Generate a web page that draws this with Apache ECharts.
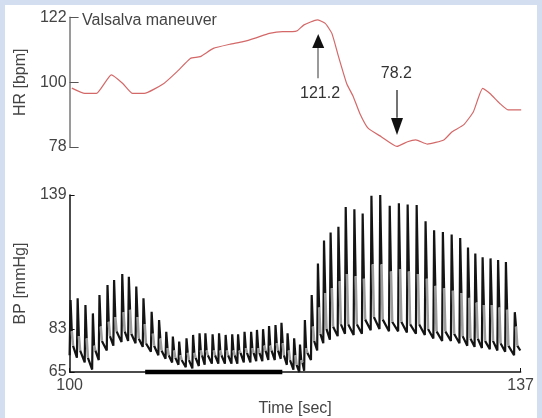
<!DOCTYPE html>
<html>
<head>
<meta charset="utf-8">
<script src="https://cdn.jsdelivr.net/npm/echarts@6/dist/echarts.min.js"></script>
<style>
  html, body { margin: 0; padding: 0; width: 542px; height: 418px; background: #d4def1; overflow: hidden; }
  #chart { position: absolute; left: 5px; top: 5px; width: 532px; height: 413px; background: #ffffff; }
</style>
</head>
<body>
<div id="chart"></div>
<script>
// ---------------- data ----------------
// Heart rate trace (time in s, HR in bpm)
const hrTime = [100.18, 101.24, 102.18, 103.39, 104.32, 105.12, 106.06, 107.66, 108.73, 109.81,
  110.61, 111.68, 113.02, 114.09, 115.15, 116.23, 117.30, 118.10, 118.50, 119.04,
  120.12, 120.77, 121.31, 121.85, 122.51, 123.05, 123.58, 124.25, 125.32, 126.60,
  127.46, 128.13, 129.07, 130.40, 131.08, 132.01, 132.81, 133.56, 134.15, 134.95,
  135.62, 136.69];
const hrBpm = [98.0, 96.2, 96.2, 102.5, 99.6, 96.2, 96.2, 99.6, 103.6, 108.1,
  108.7, 111.5, 112.9, 113.8, 115.1, 116.6, 117.2, 117.2, 117.5, 119.5,
  121.2, 120.0, 116.6, 108.7, 99.6, 95.1, 89.4, 84.4, 81.5, 78.2,
  79.8, 80.4, 79.0, 80.4, 83.2, 85.5, 90.0, 97.9, 96.2, 92.8,
  90.6, 90.6];

// Blood pressure beats: time of systolic peak, systolic, diastolic (before beat),
// dicrotic level, and level where the dicrotic fall ends
const bpPeakT = [100.08, 100.66, 101.30, 101.91, 102.45, 103.11, 103.65, 104.32, 104.86, 105.47,
  106.06, 106.73, 107.34, 107.93, 108.47, 108.99, 109.59, 110.13, 110.66, 111.14,
  111.73, 112.26, 112.80, 113.34, 113.82, 114.35, 114.89, 115.37, 115.87, 116.36,
  116.89, 117.38, 117.88, 118.42, 118.90, 119.30, 119.86, 120.37, 120.87, 121.41,
  122.05, 122.65, 123.36, 124.04, 124.76, 125.48, 126.26, 127.01, 127.73, 128.47,
  129.20, 129.90, 130.62, 131.34, 132.04, 132.68, 133.28, 133.88, 134.53, 135.15,
  135.79, 136.52];
const bpSys = [95.1, 95.8, 93.0, 89.5, 97.2, 101.4, 103.5, 106.0, 104.8, 100.7,
  95.8, 90.2, 86.7, 81.8, 79.8, 77.7, 79.1, 80.5, 81.2, 81.2,
  80.8, 81.2, 80.5, 80.8, 80.8, 81.8, 81.8, 82.6, 82.9, 84.2,
  84.6, 85.6, 81.2, 79.1, 76.5, 86.7, 97.2, 110.4, 120.0, 123.3,
  125.7, 134.0, 133.0, 131.3, 138.7, 139.0, 134.5, 135.5, 135.0, 134.8,
  128.0, 124.3, 123.5, 122.5, 121.0, 117.0, 114.5, 113.0, 112.5, 111.8,
  111.0, 90.0];
const bpDia = [72, 71, 69, 66, 70, 74, 76, 77.5, 78, 77,
  75.5, 73.5, 72, 70.5, 69, 68, 67, 66.5, 67.5, 68,
  68.5, 68.5, 68.5, 68.5, 68.5, 69, 69, 69.5, 69.5, 70,
  70, 70.5, 68, 66, 65, 65.5, 70, 74, 77, 78.5,
  80, 81, 80.5, 81, 82.5, 83, 82, 82, 81.5, 81,
  80.5, 79, 78, 78, 77, 76, 75.5, 75, 74.5, 74,
  73.5, 72];
const bpDic = [82, 80, 79, 76, 84, 86, 88, 90, 91, 88,
  85, 81, 79, 75, 74, 72, 73, 73, 74, 74,
  74, 74, 74, 74, 74, 75, 75, 75, 76, 76,
  77, 77, 74, 72, 70, 75, 84, 92, 98, 100,
  103, 106, 105, 104, 110, 110, 107, 108, 107, 106,
  104, 101, 100, 99, 98, 96, 94, 93, 93, 92,
  91, 84];
const bpFoot = [76, 74, 71, 74, 78, 80, 82, 82, 81, 79,
  77, 76, 74, 72, 71, 70, 70, 71, 72, 72,
  72, 72, 72, 72, 73, 73, 73, 73, 74, 74,
  74, 72, 70, 68, 69, 73, 78, 81, 83, 84,
  85, 85, 85, 87, 88, 87, 86, 86, 85, 85,
  83, 82, 82, 81, 80, 79, 79, 78, 78, 77,
  76, 76];
const bpEnd = [136.97, 74];

// Valsalva strain marker (s)
const valsalvaT = [106.2, 117.45];

// Tick labels
const timeTicks = [100, 137];
const hrTicks = [78, 100, 122];
const bpTicks = [65, 83, 139];

// Annotations
const peakHR = { t: 120.2, label: '121.2', stem: [101.4, 111.6], head: 114.0, text: 96.3 };
const troughHR = { t: 126.6, label: '78.2', stem: [97.4, 87.9], head: 85.0, text: 102.8 };

// ---------------- build waveform ----------------
// black: upstroke spike and diastolic run-off; gray: dicrotic fall
const bpBlack = [[100, bpDia[0]]];
const bpGray = [];
for (let i = 0; i < bpPeakT.length; i++) {
  const p = bpPeakT[i];
  bpBlack.push([p - 0.06, bpDia[i]]);
  bpBlack.push([p, bpSys[i]]);
  bpBlack.push([p + 0.1, bpDic[i]]);
  bpBlack.push([null, null]);
  bpGray.push([p + 0.1, bpDic[i]]);
  bpGray.push([p + 0.2, bpFoot[i]]);
  bpGray.push([null, null]);
  bpBlack.push([p + 0.2, bpFoot[i]]);
  if (i + 1 >= bpPeakT.length) bpBlack.push(bpEnd);
}

const hrData = hrTime.map((t, i) => [t, hrBpm[i]]);

const txt = '#444';
const font = 'Liberation Sans, Arial, sans-serif';

const chart = echarts.init(document.getElementById('chart'), null, { renderer: 'canvas' });
chart.setOption({
  animation: false,
  backgroundColor: '#ffffff',
  textStyle: { fontFamily: font },
  title: {
    text: 'Valsalva maneuver', left: 77, top: 8, padding: 0,
    textStyle: { fontSize: 16, fontWeight: 'normal', color: txt, fontFamily: font, lineHeight: 16 }
  },
  grid: [
    { left: 59, right: 12, top: 12.5, bottom: 271 },
    { left: 59, right: 12, top: 190, bottom: 46 }
  ],
  xAxis: [
    { gridIndex: 0, type: 'value', min: 100, max: 137, show: false },
    {
      gridIndex: 1, type: 'value', min: 100, max: 137,
      axisLine: { show: true, lineStyle: { color: '#111', width: 1.5 } },
      axisTick: { show: true, inside: true, length: 4, customValues: timeTicks, lineStyle: { color: '#111' } },
      axisLabel: { customValues: timeTicks, fontSize: 16, color: txt, margin: 6, fontFamily: font },
      splitLine: { show: false },
      name: 'Time [sec]', nameLocation: 'middle', nameGap: 29,
      nameTextStyle: { fontSize: 16, color: txt, fontFamily: font }
    }
  ],
  yAxis: [
    {
      gridIndex: 0, type: 'value', min: 78, max: 122,
      axisLine: { show: true, lineStyle: { color: '#9a9a9a', width: 2 } },
      axisTick: { show: true, inside: true, length: 9, customValues: hrTicks, lineStyle: { color: '#555' } },
      axisLabel: { customValues: hrTicks, fontSize: 16, color: txt, margin: 3, fontFamily: font },
      splitLine: { show: false },
      name: 'HR [bpm]', nameLocation: 'middle', nameGap: 40,
      nameTextStyle: { fontSize: 16, color: txt, fontFamily: font }
    },
    {
      gridIndex: 1, type: 'value', min: 65, max: 139,
      axisLine: { show: true, lineStyle: { color: '#111', width: 1.5 } },
      axisTick: { show: true, inside: true, length: 5, customValues: bpTicks, lineStyle: { color: '#111' } },
      axisLabel: { customValues: bpTicks, fontSize: 16, color: txt, margin: 3, fontFamily: font },
      splitLine: { show: false },
      name: 'BP [mmHg]', nameLocation: 'middle', nameGap: 40,
      nameTextStyle: { fontSize: 16, color: txt, fontFamily: font }
    }
  ],
  series: [
    {
      type: 'line', xAxisIndex: 0, yAxisIndex: 0, data: hrData,
      showSymbol: false, smooth: 0.15,
      lineStyle: { color: '#d46868', width: 1.2 },
      markLine: {
        silent: true, symbol: ['none', 'none'], animation: false,
        label: { show: false },
        data: [
          [{ coord: [peakHR.t, peakHR.stem[0]], lineStyle: { color: '#9a9a9a', width: 2, type: 'solid' } },
           { coord: [peakHR.t, peakHR.stem[1]] }],
          [{ coord: [troughHR.t, troughHR.stem[0]], lineStyle: { color: '#444', width: 1.5, type: 'solid' } },
           { coord: [troughHR.t, troughHR.stem[1]] }]
        ]
      },
      markPoint: {
        silent: true, animation: false,
        data: [
          { coord: [peakHR.t, peakHR.head], symbol: 'triangle', symbolSize: [12, 14], itemStyle: { color: '#111' }, label: { show: false } },
          { coord: [troughHR.t, troughHR.head], symbol: 'triangle', symbolRotate: 180, symbolSize: [12, 17], itemStyle: { color: '#111' }, label: { show: false } },
          { coord: [peakHR.t + 0.15, peakHR.text], symbolSize: 0, label: { show: true, position: 'inside', formatter: peakHR.label, fontSize: 16, color: '#333', fontFamily: font } },
          { coord: [troughHR.t - 0.05, troughHR.text], symbolSize: 0, label: { show: true, position: 'inside', formatter: troughHR.label, fontSize: 16, color: '#333', fontFamily: font } }
        ]
      }
    },
    {
      type: 'line', xAxisIndex: 1, yAxisIndex: 1, data: bpBlack, connectNulls: false,
      showSymbol: false, lineStyle: { color: '#141414', width: 2.2 }, z: 3
    },
    {
      type: 'line', xAxisIndex: 1, yAxisIndex: 1, data: bpGray, connectNulls: false,
      showSymbol: false, lineStyle: { color: '#9c9c9c', width: 2.6 }, z: 4
    },
    {
      type: 'line', xAxisIndex: 1, yAxisIndex: 1,
      data: [[valsalvaT[0], 65], [valsalvaT[1], 65]],
      showSymbol: false, clip: false, lineStyle: { color: '#000', width: 4.5 }, z: 6
    }
  ]
});
</script>
</body>
</html>
